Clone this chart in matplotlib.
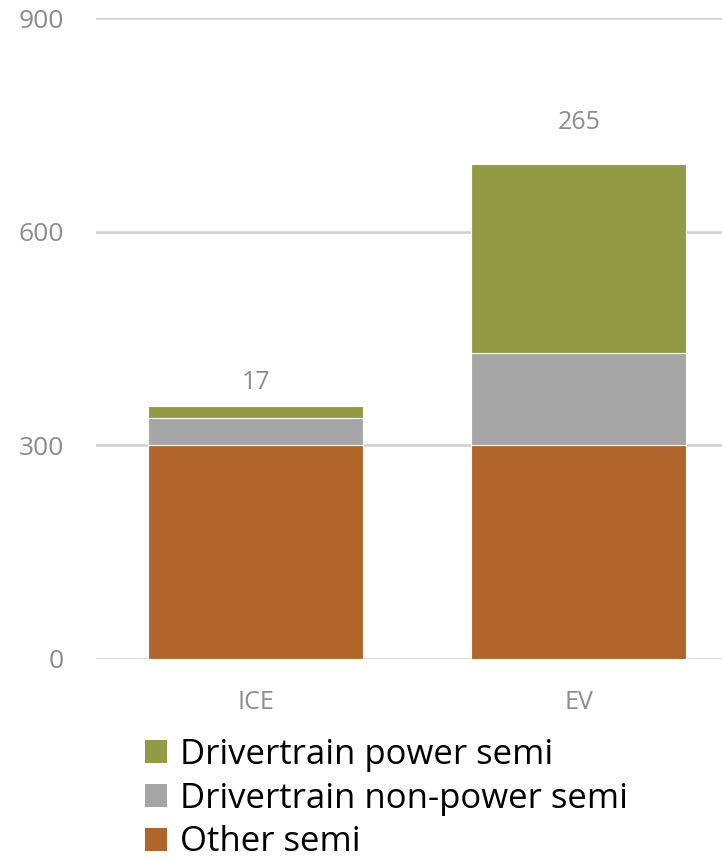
import matplotlib
matplotlib.use("Agg")
import matplotlib.pyplot as plt
from matplotlib.patches import Patch
import numpy as np

plt.rcParams['font.family'] = ['Open Sans', 'DejaVu Sans']

# Semiconductor content per vehicle, stacked by category
categories = ["ICE", "EV"]
other_semi = [300, 300]
non_power_semi = [38, 130]
power_semi = [17, 265]

series_names = ["Drivertrain power semi", "Drivertrain non-power semi", "Other semi"]
colors = {"power": "#929B43", "nonpower": "#A6A6A6", "other": "#B0652A"}
y_ticks = [0, 300, 600, 900]

fig = plt.figure(figsize=(7.22, 8.60), dpi=100)
ax = fig.add_axes([96 / 722, 1 - 659 / 860, 1 - 96 / 722, (659 - 18) / 860])

x = np.arange(len(categories))
width = 0.666
edge = dict(edgecolor="white", linewidth=0.8)

ax.bar(x, other_semi, width, color=colors["other"], zorder=3, **edge)
base2 = np.array(other_semi)
ax.bar(x, non_power_semi, width, bottom=base2, color=colors["nonpower"], zorder=3, **edge)
base3 = base2 + np.array(non_power_semi)
ax.bar(x, power_semi, width, bottom=base3, color=colors["power"], zorder=3, **edge)

# value labels for the power semi segment
label_offsets = [8, 21]
for xi, top, val, off in zip(x, base3 + np.array(power_semi), power_semi, label_offsets):
    ax.annotate(str(val), (xi, top), xytext=(0, off), textcoords="offset points",
                ha="center", va="bottom", fontsize=18, color="#8C8C8C")

ax.set_ylim(0, 900)
ax.set_xlim(-0.495, 1.443)
ax.set_yticks(y_ticks)
ax.set_xticks(x)
ax.set_xticklabels(categories)
ax.tick_params(axis="y", length=0, pad=23, labelsize=19, labelcolor="#8C8C8C")
ax.tick_params(axis="x", length=0, pad=22, labelsize=18, labelcolor="#8C8C8C")
ax.yaxis.grid(True, color="#D0D0D0", linewidth=1.8, zorder=0)
ax.set_axisbelow(True)
for s in ax.spines.values():
    s.set_visible(False)

handles = [Patch(facecolor=colors["power"]), Patch(facecolor=colors["nonpower"]),
           Patch(facecolor=colors["other"])]
fig.legend(handles, series_names, loc="upper left", bbox_to_anchor=(145 / 722, 1 - 738 / 860),
           frameon=False, fontsize=25, handlelength=0.63, handleheight=0.63,
           handletextpad=0.37, labelspacing=0.28, borderpad=0, borderaxespad=0)

fig.savefig("out.png", dpi=100)
